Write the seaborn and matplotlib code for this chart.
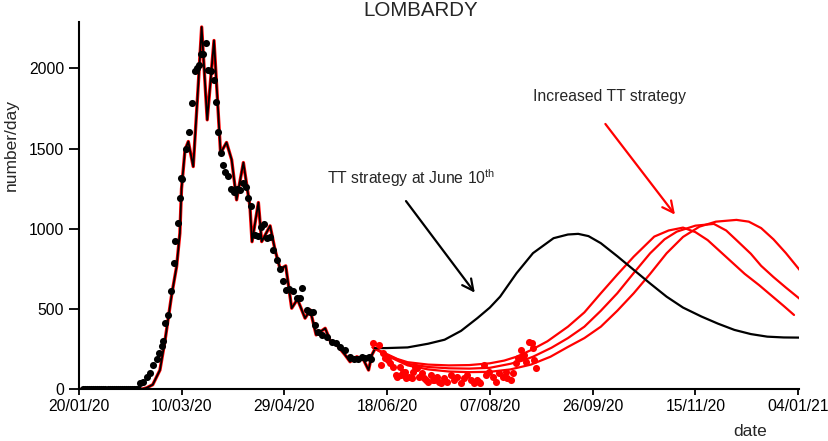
import pandas as pd
import seaborn as sns
import matplotlib
matplotlib.use("Agg")
import matplotlib.pyplot as plt

# days counted from 20/01/20
tick_days = [0, 50, 100, 150, 200, 250, 300, 350]
tick_labels = ['20/01/20', '10/03/20', '29/04/20', '18/06/20', '07/08/20',
               '26/09/20', '15/11/20', '04/01/21']

# observed daily cases (black dots, up to mid June)
obs_days = [2, 3, 4, 5, 6, 7, 8, 9, 10, 11, 12, 13, 14, 15, 16, 17, 18, 19, 20,
            21, 22, 23, 24, 25, 26, 27, 28, 29,
            29.7, 31.3, 33, 34.6, 36.2, 37.9, 39, 40.6, 41.1, 42.2, 43.2, 44.8,
            46.3, 46.8, 48.1, 49.2, 49.9, 50.4, 52.2, 53.7, 55.1, 56.4, 57.3,
            58.3, 59.3, 60.4, 61.9, 63, 64.3, 65.7, 66.8, 67.9, 69, 70, 71.2,
            72.7, 74.1, 75.5, 77, 78.5, 80.1, 81.4, 82.3, 83.7, 85.8, 87, 88.5,
            90.2, 91.5, 93.1, 94.7, 96.3, 98, 99.3, 100.9, 102.5, 104.4, 106.1,
            107.7, 108.8, 111, 112.6, 114.2, 115, 116.6, 118.3, 120.7, 123.1,
            125.2, 127.2, 129.6, 132, 134, 136.1, 137.8, 139.4, 141, 142.4]
obs_vals = [0, 0, 0, 0, 0, 0, 0, 0, 0, 0, 0, 0, 0, 0, 0, 0, 0, 0, 0,
            0, 0, 0, 0, 0, 0, 0, 0, 0,
            42, 49, 80, 101, 153, 188, 229, 271, 304, 412, 464, 616,
            790, 927, 1037, 1191, 1316, 1310, 1497, 1602, 1785, 1983, 2001,
            2022, 2086, 2090, 2157, 1990, 1980, 1925, 1793, 1604, 1472, 1399, 1357,
            1330, 1248, 1227, 1250, 1243, 1285, 1259, 1191, 1141, 963, 956, 1014,
            1031, 942, 952, 869, 807, 749, 678, 620, 624, 616, 568,
            568, 630, 495, 485, 485, 402, 360, 340, 329, 298,
            292, 267, 246, 204, 188, 188, 204, 194, 204, 190]

# observed daily cases after the TT strategy start (red dots)
red_days = [143, 146.3, 147.1, 147.9, 149.1, 150.3, 151.6, 152.8, 154.4, 154.8,
            156.4, 156.8, 157.6, 158.9, 159.2, 160.8, 162.1, 162.4, 163.7, 164.8,
            165.6, 167, 168, 169.1, 169.7, 171.3, 172.4, 172.9, 174.5, 175.1,
            176.1, 177.7, 179.3, 181, 182.6, 184.2, 185.8, 187.4, 189, 190.6,
            192.2, 193.7, 194.6, 195.4, 197.3, 198.1, 199.7, 201.4, 203, 204.6,
            206.2, 207.8, 208.4, 210.3, 211.1, 212.7, 213.5, 215.1, 215.9, 216.7,
            217.5, 219.2, 220.4, 220.8, 221.6, 222.4]
red_vals = [288, 277, 153, 226, 194, 184, 163, 142, 90, 80,
            142, 90, 111, 111, 70, 80, 70, 111, 142, 132,
            80, 101, 70, 59, 49, 90, 59, 59, 80, 49,
            39, 70, 49, 90, 59, 80, 39, 70, 90, 59,
            39, 59, 49, 39, 153, 90, 111, 80, 49, 101,
            80, 111, 70, 59, 101, 163, 194, 246, 204, 215,
            173, 298, 288, 257, 184, 132]

# model fit over the first wave
fit_days = [0, 30, 33, 36, 39.5, 42, 45.2, 47.6, 49.2, 50, 51.7, 53.3, 55.7,
            58.1, 59.8, 62.5, 65.8, 67.4, 69, 71.9, 74.4, 76.8, 80.1, 83.3,
            84.3, 87.4, 89, 93.1, 95.5, 98, 100.7, 103.6, 106.4, 110.1, 112.6,
            115.5, 119.9, 122.5, 125.6, 129.6, 132, 135.3, 138.6, 141, 142.6,
            144.3]
fit_vals = [0, 0, 10, 30, 121, 308, 589, 765, 973, 1250, 1492, 1544, 1388,
            1887, 2257, 1679, 2173, 1824, 1472, 1538, 1430, 1181, 1413, 1139,
            920, 1164, 921, 1019, 869, 749, 770, 506, 562, 444, 495,
            340, 381, 298, 277, 215, 173, 204, 184, 121, 215,
            257]

# projection with TT strategy at June 10th
tt_days = [144, 150, 160, 170, 178, 186, 194, 200, 205, 213, 221, 231, 238,
           243, 248, 254, 262, 270, 278, 286, 294, 303, 311, 319, 327, 335,
           343, 351]
tt_vals = [257, 258, 262, 285, 310, 365, 445, 510, 578, 724, 849, 942, 965,
           969, 955, 911, 830, 745, 660, 578, 510, 454, 410, 371, 345, 329,
           324, 323]

# projections with increased TT strategy
inc1_days = [143, 150, 155, 160, 170, 180, 190, 200, 207, 213, 220, 228, 238,
             246, 254, 262, 270, 280, 287, 294, 300, 306, 312, 318, 324, 331,
             337, 343, 348]
inc1_vals = [262, 220, 190, 170, 155, 150, 152, 163, 180, 204, 245, 300, 391,
             480, 599, 715, 827, 952, 990, 1008, 980, 930, 860, 790, 720, 650,
             585, 520, 464]
inc2_days = [143, 150, 160, 170, 180, 190, 200, 210, 216, 221, 230, 238, 246,
             254, 262, 270, 278, 285, 291, 300, 309, 315, 320, 327, 332, 338,
             344, 351]
inc2_vals = [262, 215, 160, 140, 132, 130, 135, 160, 180, 204, 260, 320, 391,
             490, 599, 725, 848, 935, 983, 1020, 1031, 990, 930, 845, 770, 700,
             635, 562]
inc3_days = [143, 150, 160, 170, 180, 190, 200, 210, 220, 229.5, 238, 246, 254,
             262, 270, 278, 286, 294, 302, 310, 320, 326, 332, 338, 344, 351]
inc3_vals = [262, 210, 150, 125, 112, 108, 110, 125, 155, 204, 265, 320, 391,
             490, 599, 720, 848, 950, 1014, 1045, 1056, 1045, 1005, 935, 850,
             740]

sns.set_style("ticks")
plt.rcParams['font.family'] = ['Liberation Sans', 'DejaVu Sans']
plt.rcParams['mathtext.fontset'] = 'custom'
plt.rcParams['mathtext.rm'] = 'Liberation Sans'

fig = plt.figure(figsize=(8.29, 4.41), dpi=100)
ax = fig.add_axes([0.095, 0.1168, 0.869, 0.834])

df_fit = pd.DataFrame({'day': fit_days, 'val': fit_vals})
sns.lineplot(data=df_fit, x='day', y='val', ax=ax, color='red', lw=2.4, estimator=None)
sns.lineplot(data=df_fit, x='day', y='val', ax=ax, color='black', lw=1.3, estimator=None)

for d, v in [(inc1_days, inc1_vals), (inc2_days, inc2_vals), (inc3_days, inc3_vals)]:
    sns.lineplot(x=d, y=v, ax=ax, color='red', lw=1.6, estimator=None)
sns.lineplot(x=tt_days, y=tt_vals, ax=ax, color='black', lw=1.6, estimator=None)

sns.scatterplot(x=obs_days, y=obs_vals, ax=ax, color='black', s=26, linewidth=0, zorder=3)
sns.scatterplot(x=red_days, y=red_vals, ax=ax, color='red', s=26, linewidth=0, zorder=3)

ax.set_xlim(0, 350.5)
ax.set_ylim(0, 2290)
ax.set_xticks(tick_days)
ax.set_xticklabels(tick_labels)
ax.set_yticks([0, 500, 1000, 1500, 2000])
ax.tick_params(axis='both', labelsize=11.3, colors='black', width=1.3)
ax.tick_params(axis='y', length=7)
ax.tick_params(axis='x', length=4, pad=3)
for side in ['left', 'bottom']:
    ax.spines[side].set_linewidth(1.5)
    ax.spines[side].set_color('black')
sns.despine(ax=ax)

ax.set_xlabel('')
ax.set_ylabel('')
fig.text(750 / 829, 1 - 432 / 441, 'date', fontsize=12.5, ha='center', va='center')
fig.text(11 / 829, 1 - 145 / 441, 'number/day', fontsize=12.5, ha='center', va='center',
         rotation=90)
fig.text(0.507, 0.977, 'LOMBARDY', fontsize=14.8, ha='center', va='center')

arrow = '->,head_length=0.8,head_width=0.4'
ax.text(120.9, 1318, 'TT strategy at June 10$^{\\mathrm{th}}$', fontsize=11.3,
        ha='left', va='center')
ax.annotate('', xy=(193.5, 589), xytext=(158.4, 1187),
            arrowprops=dict(arrowstyle=arrow, color='black', lw=1.6))
ax.text(221.2, 1822, 'Increased TT strategy', fontsize=11.3, ha='left', va='center')
ax.annotate('', xy=(290.9, 1075), xytext=(255.4, 1667),
            arrowprops=dict(arrowstyle=arrow, color='red', lw=1.6))

fig.savefig('out.png', dpi=100)
